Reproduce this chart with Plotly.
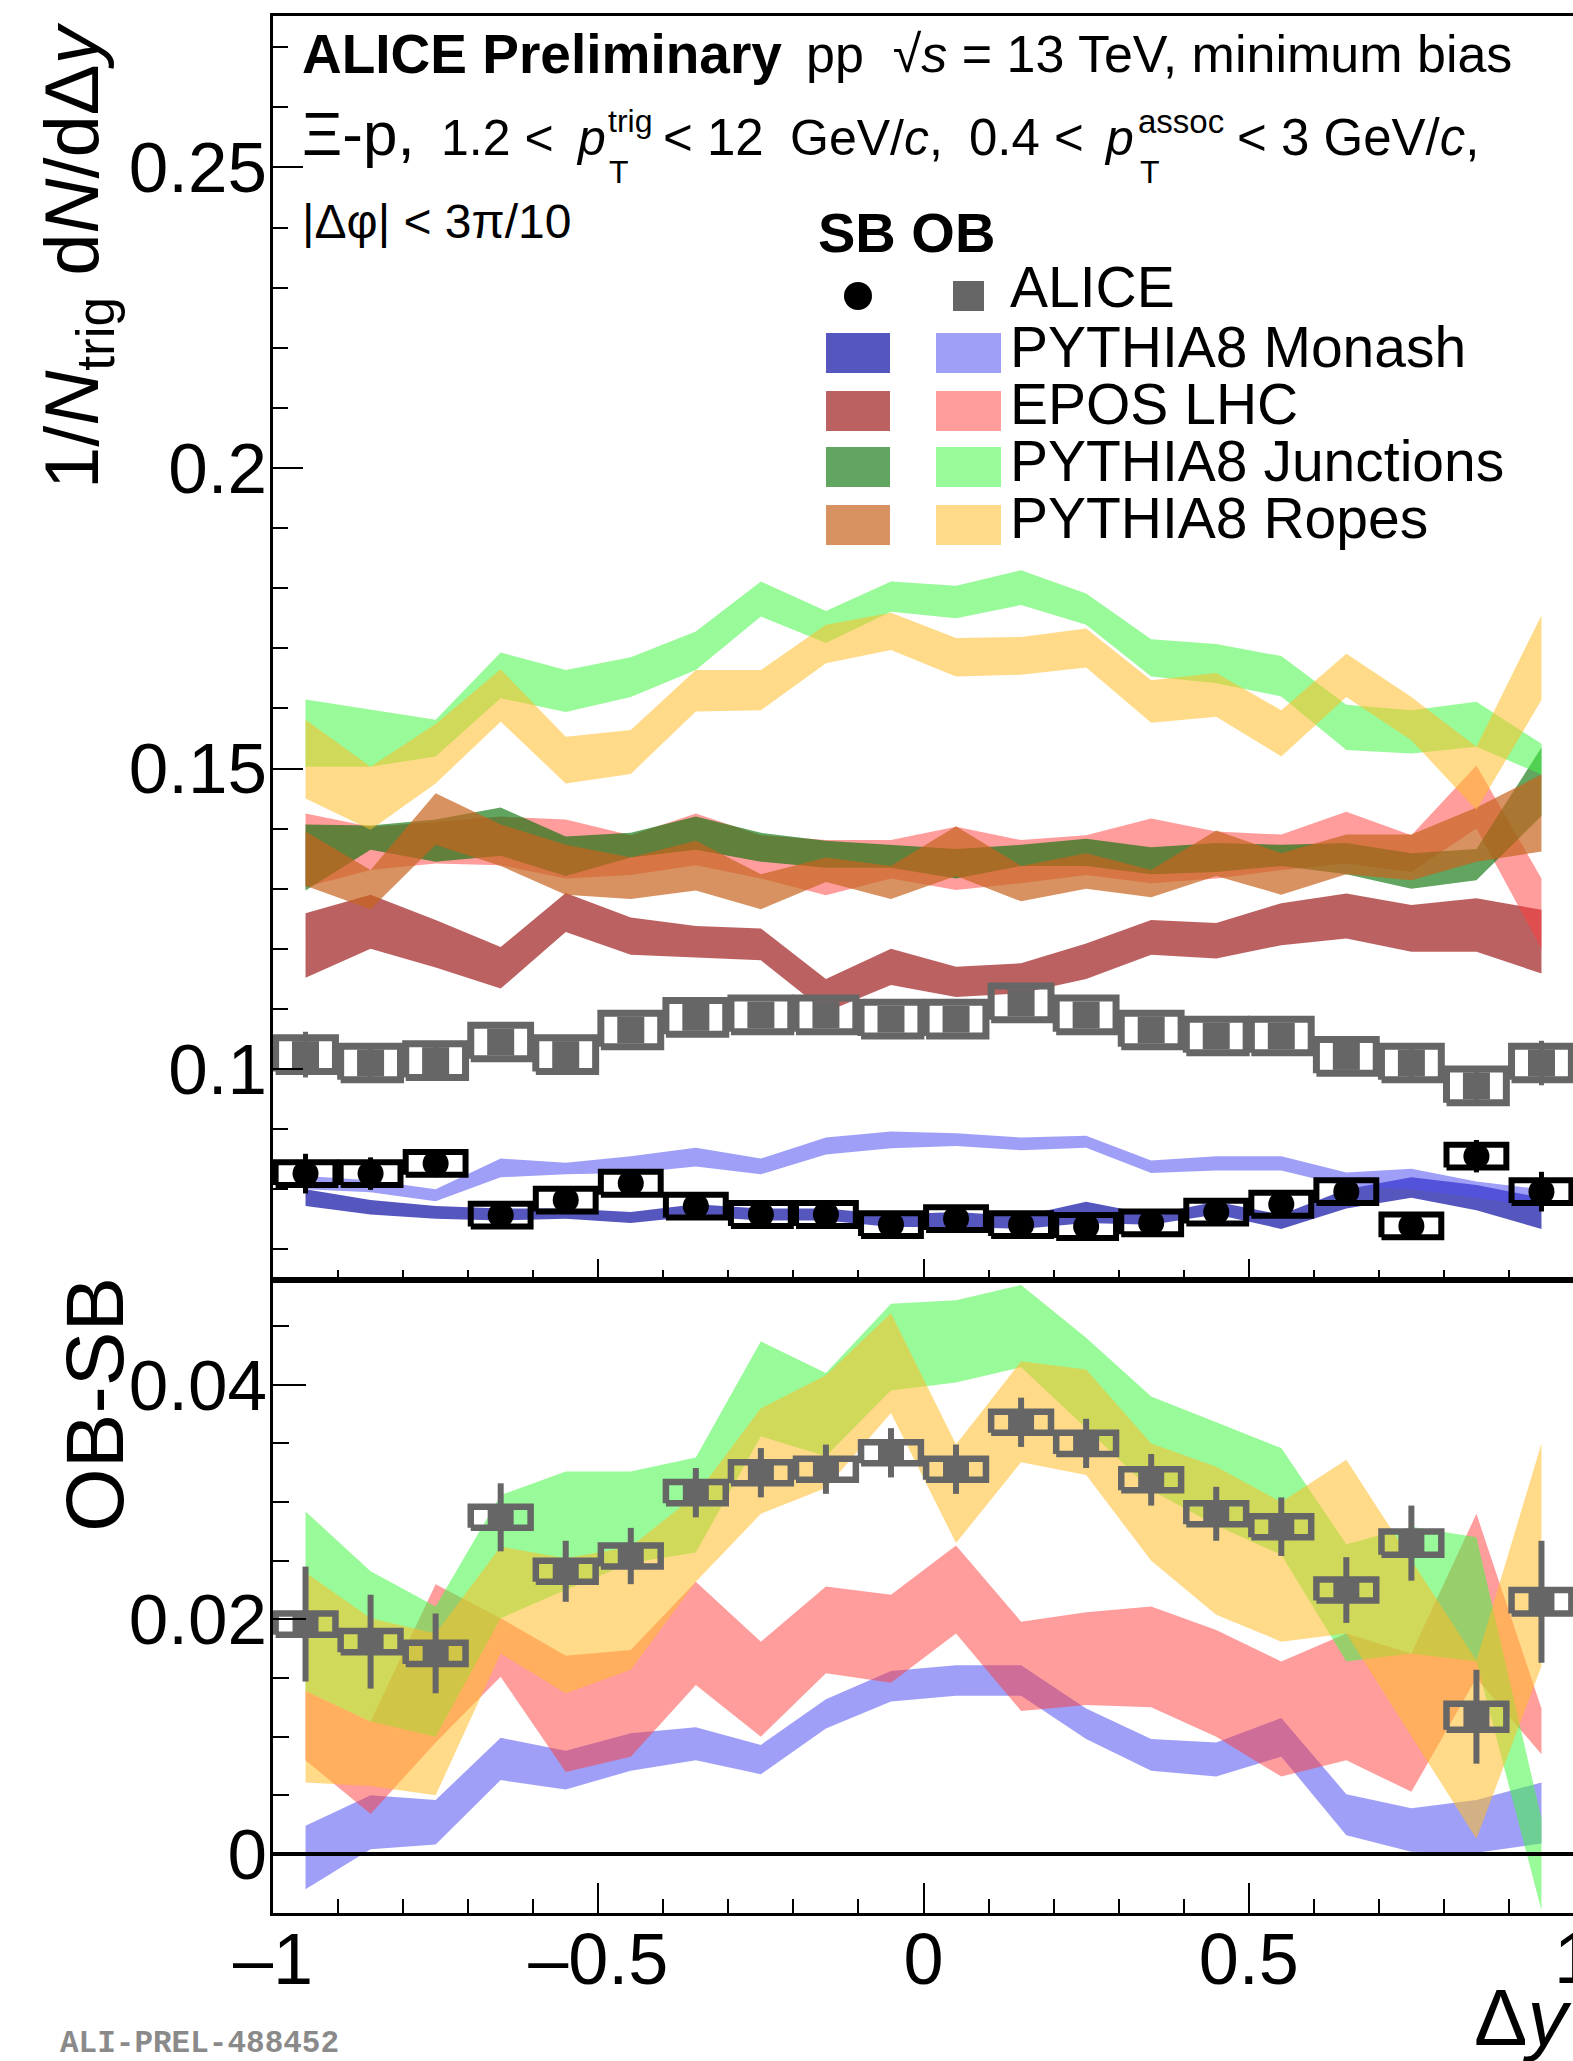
import plotly.graph_objects as go

W, H = 1573, 2061
FONT = "Liberation Sans"

# ---------------- data ----------------
dy = [-0.95, -0.85, -0.75, -0.65, -0.55, -0.45, -0.35, -0.25, -0.15, -0.05,
      0.05, 0.15, 0.25, 0.35, 0.45, 0.55, 0.65, 0.75, 0.85, 0.95]

# ALICE, same-baryon-number (SB) and opposite-baryon-number (OB) pairs
alice_sb = [0.0826, 0.0826, 0.0843, 0.0757, 0.0782, 0.0810, 0.0772, 0.0758, 0.0758, 0.0741,
            0.0751, 0.0741, 0.0738, 0.0744, 0.0762, 0.0775, 0.0796, 0.0739, 0.0855, 0.0796]
alice_sb_stat = [0.0033, 0.0027, 0.0023, 0.0019, 0.0017, 0.0016, 0.0014, 0.0014, 0.0014, 0.0014,
                 0.0014, 0.0014, 0.0014, 0.0015, 0.0016, 0.0017, 0.0019, 0.0022, 0.0027, 0.0033]
alice_sb_syst = [0.0019, 0.0019, 0.0019, 0.0019, 0.0019, 0.0019, 0.0019, 0.0019, 0.0019, 0.0019,
                 0.0019, 0.0019, 0.0019, 0.0019, 0.0019, 0.0019, 0.0019, 0.0019, 0.0019, 0.0019]

alice_ob = [0.1024, 0.1010, 0.1014, 0.1045, 0.1024, 0.1065, 0.1086, 0.1090, 0.1090, 0.1083,
            0.1083, 0.1110, 0.1090, 0.1065, 0.1055, 0.1055, 0.1021, 0.1010, 0.0972, 0.1010]
alice_ob_stat = [0.0038, 0.0030, 0.0025, 0.0021, 0.0019, 0.0018, 0.0016, 0.0016, 0.0016, 0.0016,
                 0.0016, 0.0016, 0.0016, 0.0016, 0.0017, 0.0019, 0.0021, 0.0024, 0.0030, 0.0037]
alice_ob_syst = [0.0028, 0.0028, 0.0028, 0.0028, 0.0028, 0.0028, 0.0028, 0.0028, 0.0028, 0.0028,
                 0.0028, 0.0028, 0.0028, 0.0028, 0.0028, 0.0028, 0.0028, 0.0028, 0.0028, 0.0028]

alice_diff = [0.0196, 0.0181, 0.0171, 0.0287, 0.0241, 0.0254, 0.0308, 0.0325, 0.0328, 0.0342,
              0.0328, 0.0368, 0.0350, 0.0319, 0.0290, 0.0279, 0.0225, 0.0265, 0.0117, 0.0215]
alice_diff_stat = [0.0049, 0.0040, 0.0034, 0.0029, 0.0026, 0.0024, 0.0021, 0.0021, 0.0021, 0.0021,
                   0.0021, 0.0021, 0.0021, 0.0022, 0.0023, 0.0025, 0.0028, 0.0032, 0.0040, 0.0052]
alice_diff_syst = [0.0009, 0.0009, 0.0009, 0.0009, 0.0009, 0.0009, 0.0009, 0.0009, 0.0009, 0.0009,
                   0.0009, 0.0009, 0.0009, 0.0009, 0.0009, 0.0009, 0.0009, 0.0010, 0.0011, 0.0010]

# Model bands (lower / upper edge)
monash_sb_lo = [0.0772, 0.0758, 0.0751, 0.0748, 0.0751, 0.0744, 0.0755, 0.0748, 0.0748, 0.0737,
                0.0737, 0.0734, 0.0744, 0.0741, 0.0758, 0.0734, 0.0768, 0.0786, 0.0765, 0.0734]
monash_sb_hi = [0.0800, 0.0782, 0.0772, 0.0768, 0.0768, 0.0762, 0.0775, 0.0768, 0.0768, 0.0758,
                0.0762, 0.0755, 0.0779, 0.0758, 0.0779, 0.0758, 0.0800, 0.0820, 0.0807, 0.0786]
monash_ob_lo = [0.0800, 0.0795, 0.0780, 0.0820, 0.0825, 0.0827, 0.0838, 0.0825, 0.0858, 0.0868,
                0.0872, 0.0865, 0.0869, 0.0827, 0.0831, 0.0831, 0.0805, 0.0800, 0.0786, 0.0770]
monash_ob_hi = [0.0822, 0.0815, 0.0800, 0.0851, 0.0844, 0.0855, 0.0869, 0.0851, 0.0886, 0.0896,
                0.0893, 0.0886, 0.0889, 0.0848, 0.0855, 0.0855, 0.0828, 0.0834, 0.0813, 0.0800]

epos_sb_lo = [0.1152, 0.1200, 0.1169, 0.1134, 0.1228, 0.1190, 0.1186, 0.1181, 0.1095, 0.1140,
              0.1120, 0.1126, 0.1150, 0.1190, 0.1184, 0.1206, 0.1217, 0.1195, 0.1195, 0.1159]
epos_sb_hi = [0.1259, 0.1290, 0.1248, 0.1203, 0.1293, 0.1252, 0.1238, 0.1234, 0.1150, 0.1200,
              0.1170, 0.1176, 0.1209, 0.1248, 0.1243, 0.1276, 0.1292, 0.1273, 0.1284, 0.1265]
epos_ob_lo = [0.1303, 0.1331, 0.1342, 0.1339, 0.1317, 0.1323, 0.1339, 0.1317, 0.1289, 0.1317,
              0.1298, 0.1309, 0.1323, 0.1309, 0.1317, 0.1331, 0.1342, 0.1328, 0.1400, 0.1200]
epos_ob_hi = [0.1425, 0.1403, 0.1411, 0.1420, 0.1415, 0.1389, 0.1425, 0.1389, 0.1381, 0.1381,
              0.1403, 0.1381, 0.1389, 0.1417, 0.1395, 0.1390, 0.1428, 0.1389, 0.1505, 0.1317]

junc_sb_lo = [0.1297, 0.1365, 0.1345, 0.1355, 0.1321, 0.1352, 0.1365, 0.1345, 0.1335, 0.1335,
              0.1317, 0.1338, 0.1338, 0.1324, 0.1328, 0.1338, 0.1324, 0.1300, 0.1314, 0.1421]
junc_sb_hi = [0.1407, 0.1405, 0.1415, 0.1435, 0.1387, 0.1393, 0.1420, 0.1393, 0.1380, 0.1373,
              0.1366, 0.1373, 0.1383, 0.1369, 0.1376, 0.1373, 0.1376, 0.1359, 0.1366, 0.1535]
junc_ob_lo = [0.1503, 0.1503, 0.1520, 0.1617, 0.1594, 0.1619, 0.1664, 0.1753, 0.1709, 0.1761,
              0.1750, 0.1772, 0.1739, 0.1653, 0.1642, 0.1620, 0.1531, 0.1525, 0.1536, 0.1490]
junc_ob_hi = [0.1615, 0.1598, 0.1581, 0.1693, 0.1664, 0.1685, 0.1728, 0.1811, 0.1762, 0.1811,
              0.1804, 0.1830, 0.1791, 0.1715, 0.1707, 0.1687, 0.1606, 0.1597, 0.1611, 0.1541]

rope_sb_lo = [0.1305, 0.1266, 0.1373, 0.1338, 0.1290, 0.1283, 0.1297, 0.1266, 0.1311, 0.1283,
              0.1321, 0.1279, 0.1300, 0.1286, 0.1321, 0.1290, 0.1324, 0.1314, 0.1345, 0.1362]
rope_sb_hi = [0.1395, 0.1331, 0.1459, 0.1407, 0.1373, 0.1352, 0.1380, 0.1324, 0.1352, 0.1338,
              0.1404, 0.1338, 0.1359, 0.1331, 0.1397, 0.1359, 0.1390, 0.1390, 0.1435, 0.1490]
rope_ob_lo = [0.1450, 0.1398, 0.1475, 0.1578, 0.1475, 0.1491, 0.1595, 0.1597, 0.1675, 0.1697,
              0.1653, 0.1656, 0.1668, 0.1576, 0.1586, 0.1520, 0.1619, 0.1547, 0.1431, 0.1614]
rope_ob_hi = [0.1581, 0.1503, 0.1574, 0.1665, 0.1553, 0.1564, 0.1664, 0.1664, 0.1739, 0.1759,
              0.1717, 0.1719, 0.1733, 0.1647, 0.1659, 0.1597, 0.1691, 0.1619, 0.1536, 0.1755]

# OB - SB model bands
monash_d_lo = [-0.0030, 0.0004, 0.0008, 0.0063, 0.0055, 0.0071, 0.0080, 0.0068, 0.0107, 0.0130,
               0.0135, 0.0135, 0.0098, 0.0071, 0.0066, 0.0083, 0.0016, 0.0002, 0.0001, 0.0009]
monash_d_hi = [0.0024, 0.0050, 0.0046, 0.0099, 0.0088, 0.0103, 0.0108, 0.0093, 0.0132, 0.0156,
               0.0161, 0.0161, 0.0124, 0.0098, 0.0095, 0.0116, 0.0051, 0.0039, 0.0046, 0.0061]
epos_d_lo = [0.0080, 0.0034, 0.0095, 0.0151, 0.0070, 0.0083, 0.0144, 0.0100, 0.0154, 0.0146,
             0.0188, 0.0122, 0.0127, 0.0125, 0.0100, 0.0066, 0.0080, 0.0053, 0.0150, 0.0085]
epos_d_hi = [0.0139, 0.0113, 0.0230, 0.0201, 0.0169, 0.0174, 0.0232, 0.0181, 0.0228, 0.0221,
             0.0263, 0.0198, 0.0206, 0.0211, 0.0191, 0.0164, 0.0188, 0.0171, 0.0290, 0.0124]
junc_d_lo = [0.0139, 0.0113, 0.0100, 0.0201, 0.0225, 0.0248, 0.0257, 0.0356, 0.0339, 0.0395,
             0.0402, 0.0415, 0.0363, 0.0310, 0.0280, 0.0255, 0.0164, 0.0171, 0.0164, -0.0048]
junc_d_hi = [0.0292, 0.0241, 0.0211, 0.0306, 0.0326, 0.0326, 0.0338, 0.0437, 0.0410, 0.0469,
             0.0472, 0.0485, 0.0440, 0.0390, 0.0368, 0.0346, 0.0264, 0.0279, 0.0270, 0.0030]
rope_d_lo = [0.0061, 0.0058, 0.0050, 0.0171, 0.0137, 0.0157, 0.0232, 0.0290, 0.0312, 0.0376,
             0.0265, 0.0334, 0.0323, 0.0250, 0.0204, 0.0181, 0.0188, 0.0100, 0.0013, 0.0160]
rope_d_hi = [0.0240, 0.0201, 0.0188, 0.0262, 0.0252, 0.0262, 0.0306, 0.0380, 0.0408, 0.0461,
             0.0349, 0.0420, 0.0413, 0.0350, 0.0330, 0.0300, 0.0336, 0.0250, 0.0165, 0.0350]

legend_names = ["PYTHIA8 Monash", "EPOS LHC", "PYTHIA8 Junctions", "PYTHIA8 Ropes"]

# ---------------- styles ----------------
C_MON_SB = "rgba(30,30,170,0.75)"
C_MON_OB = "rgba(80,80,240,0.55)"
C_EPO_SB = "rgba(160,30,30,0.70)"
C_EPO_OB = "rgba(255,60,60,0.50)"
C_JUN_SB = "rgba(0,110,0,0.62)"
C_JUN_OB = "rgba(70,245,70,0.55)"
C_ROP_SB = "rgba(200,100,30,0.70)"
C_ROP_OB = "rgba(255,190,40,0.55)"
GREY = "#666666"
BOX_HW = 0.046


def px(x):
    return x / W


def py(y):
    return 1 - y / H


fig = go.Figure()


def band(lo, hi, color, xa, ya):
    fig.add_trace(go.Scatter(
        x=dy + dy[::-1], y=hi + lo[::-1], mode="lines", fill="toself",
        fillcolor=color, line=dict(width=0), hoverinfo="skip",
        showlegend=False, xaxis=xa, yaxis=ya))


def syst_boxes(vals, syst, color, width, xa, ya):
    bx, by = [], []
    for xc, v, s in zip(dy, vals, syst):
        bx += [xc - BOX_HW, xc + BOX_HW, xc + BOX_HW, xc - BOX_HW, xc - BOX_HW, None]
        by += [v - s, v - s, v + s, v + s, v - s, None]
    fig.add_trace(go.Scatter(
        x=bx, y=by, mode="lines", line=dict(color=color, width=width),
        hoverinfo="skip", showlegend=False, xaxis=xa, yaxis=ya))


def points(vals, stat, color, symbol, size, xa, ya, thick):
    fig.add_trace(go.Scatter(
        x=dy, y=vals, mode="markers",
        marker=dict(symbol=symbol, size=size, color=color, line=dict(width=0)),
        error_y=dict(type="data", array=stat, color=color, thickness=thick, width=0),
        hoverinfo="skip", showlegend=False, xaxis=xa, yaxis=ya))


# upper panel: SB and OB distributions
band(monash_sb_lo, monash_sb_hi, C_MON_SB, "x", "y")
band(monash_ob_lo, monash_ob_hi, C_MON_OB, "x", "y")
band(epos_sb_lo, epos_sb_hi, C_EPO_SB, "x", "y")
band(epos_ob_lo, epos_ob_hi, C_EPO_OB, "x", "y")
band(junc_sb_lo, junc_sb_hi, C_JUN_SB, "x", "y")
band(junc_ob_lo, junc_ob_hi, C_JUN_OB, "x", "y")
band(rope_sb_lo, rope_sb_hi, C_ROP_SB, "x", "y")
band(rope_ob_lo, rope_ob_hi, C_ROP_OB, "x", "y")
syst_boxes(alice_ob, alice_ob_syst, GREY, 7, "x", "y")
syst_boxes(alice_sb, alice_sb_syst, "black", 6, "x", "y")
points(alice_ob, alice_ob_stat, GREY, "square", 27, "x", "y", 5)
points(alice_sb, alice_sb_stat, "black", "circle", 26, "x", "y", 5)

# lower panel: OB - SB
band(monash_d_lo, monash_d_hi, C_MON_OB, "x2", "y2")
band(epos_d_lo, epos_d_hi, C_EPO_OB, "x2", "y2")
band(junc_d_lo, junc_d_hi, C_JUN_OB, "x2", "y2")
band(rope_d_lo, rope_d_hi, C_ROP_OB, "x2", "y2")
syst_boxes(alice_diff, alice_diff_syst, GREY, 6.5, "x2", "y2")
points(alice_diff, alice_diff_stat, GREY, "square", 26, "x2", "y2", 6)

# ---------------- axes ----------------
X_RANGE = [-1, -1 + (W - 273) / 650.5]
common_x = dict(range=X_RANGE, domain=[px(273), 1], showgrid=False, zeroline=False,
                automargin=False,
                showline=True, mirror=True, linecolor="black", linewidth=2.5,
                ticks="inside", tickcolor="black", tickwidth=2,
                tickmode="array", tickvals=[-1, -0.5, 0, 0.5])
common_y = dict(showgrid=False, zeroline=False, showline=True, mirror=False,
                automargin=False, ticklabelstandoff=-11,
                linecolor="black", linewidth=2.5, ticks="inside", tickcolor="black",
                tickwidth=2, tickmode="array")

fig.update_layout(
    width=W, height=H, margin=dict(l=0, r=0, t=0, b=0, pad=0, autoexpand=False),
    paper_bgcolor="white", plot_bgcolor="white", showlegend=False,
    font=dict(family=FONT, color="black"),
    xaxis=dict(**common_x, anchor="y", showticklabels=False, ticklen=21,
               minor=dict(tickmode="linear", tick0=0, dtick=0.1, ticklen=10,
                          tickwidth=2, ticks="inside", tickcolor="black")),
    yaxis=dict(**common_y, anchor="x", domain=[py(1280), py(16)],
               range=[0.0649, 0.2752],
               tickvals=[0.1, 0.15, 0.2, 0.25], ticktext=["0.1", "0.15", "0.2", "0.25"],
               ticklen=30, tickfont=dict(size=71, family=FONT),
               minor=dict(tickmode="linear", tick0=0, dtick=0.01, ticklen=15,
                          tickwidth=2, ticks="inside", tickcolor="black")),
    xaxis2=dict(**common_x, anchor="y2", ticklen=30, ticklabelstandoff=-18,
                ticktext=["\u20131", "\u20130.5", "0", "0.5"],
                tickfont=dict(size=72, family=FONT),
                minor=dict(tickmode="linear", tick0=0, dtick=0.1, ticklen=14,
                           tickwidth=2, ticks="inside", tickcolor="black")),
    yaxis2=dict(**common_y, anchor="x2", domain=[py(1913), py(1280)],
                range=[-0.00503, 0.04893],
                tickvals=[0, 0.02, 0.04], ticktext=["0", "0.02", "0.04"],
                ticklen=33, tickfont=dict(size=71, family=FONT),
                minor=dict(tickmode="linear", tick0=0, dtick=0.005, ticklen=16,
                           tickwidth=2, ticks="inside", tickcolor="black")),
)

# ---------------- shapes ----------------
shapes = [dict(type="line", xref="x2", yref="y2", x0=-1, x1=1, y0=0, y1=0,
               line=dict(color="black", width=4), layer="above")]

# legend swatches
shapes.append(dict(type="circle", xref="paper", yref="paper",
                   x0=px(844), x1=px(872), y0=py(310), y1=py(282),
                   fillcolor="black", line=dict(width=0)))
shapes.append(dict(type="rect", xref="paper", yref="paper",
                   x0=px(953), x1=px(984), y0=py(311), y1=py(281),
                   fillcolor=GREY, line=dict(width=0)))
rows = [(333, C_MON_SB, C_MON_OB), (391, C_EPO_SB, C_EPO_OB),
        (447, C_JUN_SB, C_JUN_OB), (505, C_ROP_SB, C_ROP_OB)]
for top, c_sb, c_ob in rows:
    shapes.append(dict(type="rect", xref="paper", yref="paper",
                       x0=px(826), x1=px(890), y0=py(top + 40), y1=py(top),
                       fillcolor=c_sb, line=dict(width=0)))
    shapes.append(dict(type="rect", xref="paper", yref="paper",
                       x0=px(936), x1=px(1001), y0=py(top + 40), y1=py(top),
                       fillcolor=c_ob, line=dict(width=0)))
fig.update_layout(shapes=shapes)

# ---------------- text ----------------
ann = []


def text(x, y, s, size, anchor="left", angle=0, color="black", family=FONT):
    ann.append(dict(x=px(x), y=py(y), xref="paper", yref="paper", text=s,
                    showarrow=False, xanchor=anchor, yanchor="middle",
                    textangle=angle, font=dict(size=size, color=color, family=family)))


# axis titles
text(77, 256, "1/<i>N</i><sub>trig</sub> d<i>N</i>/dΔ<i>y</i>", 76, anchor="center", angle=-90)
text(94, 1405, "OB-SB", 82, anchor="center", angle=-90)
text(1472, 2017, "Δ<i>y</i>", 80)
text(1574, 1958, "1", 72, anchor="center")
text(58, 2043, "<b>ALI-PREL-488452</b>", 31, color="#8a8a8a", family="Liberation Mono")

# header
text(300, 54, "<b>ALICE Preliminary</b>", 55)
text(804, 54, "pp  √<i>s</i> = 13 TeV, minimum bias", 52)

text(300, 134, "Ξ-p,", 62)
text(439, 138, "1.2 <", 50)
text(574, 138, "<i>p</i>", 50)
text(606, 121, "trig", 32)
text(607, 172, "T", 32)
text(661, 138, "< 12", 51)
text(788, 138, "GeV/<i>c</i>,", 50)
text(967, 138, "0.4 <", 51)
text(1102, 138, "<i>p</i>", 50)
text(1136, 121, "assoc", 33)
text(1138, 172, "T", 32)
text(1235, 138, "< 3 GeV/<i>c</i>,", 51)

text(300, 222, "|Δφ| < 3π/10", 48)

# legend text
text(816, 233, "<b>SB OB</b>", 56)
text(1008, 287, "ALICE", 57)
for yc, name in zip([347, 404, 461, 518], legend_names):
    text(1008, yc, name, 57)

fig.update_layout(annotations=ann)

fig.write_html("out.html")
